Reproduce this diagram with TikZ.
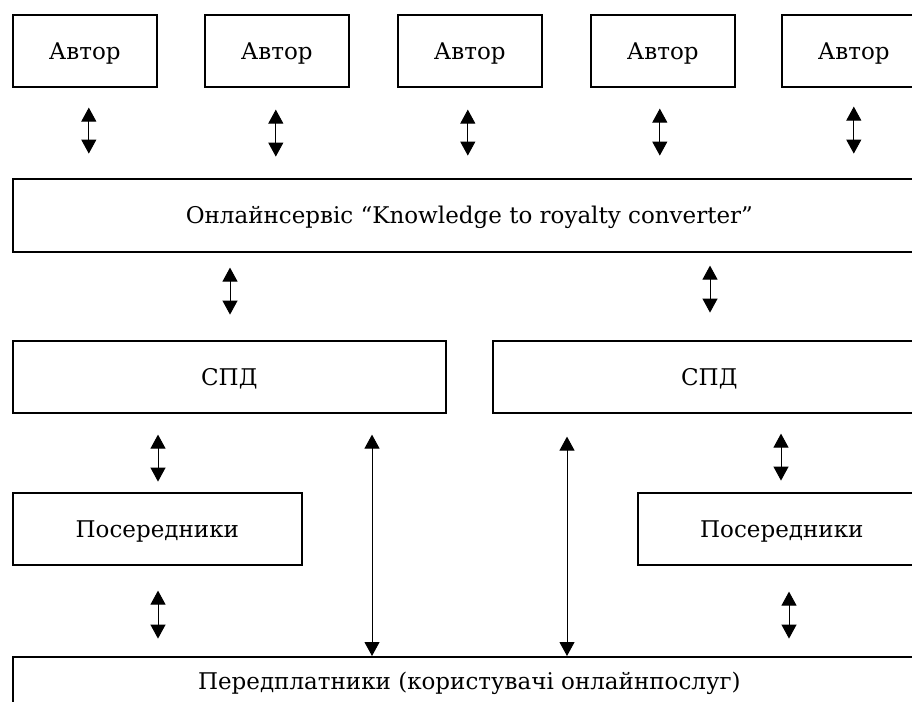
\documentclass[tikz,border=0pt]{standalone}
\usepackage{fontspec}
\setmainfont{DejaVu Serif}
\usetikzlibrary{arrows.meta}
\begin{document}
\begin{tikzpicture}[x=1pt,y=-1pt,
  box/.style={draw=black,line width=1.6pt,rectangle,anchor=north west,inner sep=0pt,
    minimum height=72pt,text height=17pt,text depth=0pt,font=\fontsize{23}{27}\selectfont},
  arr/.style={line width=1pt,{Triangle[width=15pt,length=14pt]}-{Triangle[width=15pt,length=14pt]}}]
\useasboundingbox (0,0) rectangle (912,701);
\clip (0,0) rectangle (912,701);
\node[box,minimum width=144pt] (a1) at (12,14) {Автор};
\node[box,minimum width=144pt] (a2) at (204,14) {Автор};
\node[box,minimum width=144pt] (a3) at (397,14) {Автор};
\node[box,minimum width=144pt] (a4) at (590,14) {Автор};
\node[box,minimum width=144pt] (a5) at (781,14) {Автор};
\node[box,minimum width=913pt,minimum height=73pt] (svc) at (12,178) {Онлайнсервіс “Knowledge to royalty converter”};
\node[box,minimum width=433pt] (spdL) at (12,340) {СПД};
\node[box,minimum width=433pt] (spdR) at (492,340) {СПД};
\node[box,minimum width=289pt] (posL) at (12,492) {Посередники};
\node[box,minimum width=288pt] (posR) at (637,492) {Посередники};
\node[box,minimum width=913pt,minimum height=48pt] (bot) at (12,656) {Передплатники (користувачі онлайнпослуг)};
% author arrows
\draw[arr] ([shift={(4,20)}]a1.south) -- ([shift={(4,66)}]a1.south);
\draw[arr] ([shift={(-1,22)}]a2.south) -- ([shift={(-1,69)}]a2.south);
\draw[arr] ([shift={(-2,22)}]a3.south) -- ([shift={(-2,68)}]a3.south);
\draw[arr] ([shift={(-3,21)}]a4.south) -- ([shift={(-3,68)}]a4.south);
\draw[arr] ([shift={(0,19)}]a5.south) -- ([shift={(0,66)}]a5.south);
% service to SPD
\draw[arr] ([shift={(218,15)}]svc.south west) -- ([shift={(218,62)}]svc.south west);
\draw[arr] ([shift={(698,13)}]svc.south west) -- ([shift={(698,60)}]svc.south west);
% left column
\draw[arr] ([shift={(146,21)}]spdL.south west) -- ([shift={(146,68)}]spdL.south west);
\draw[arr] ([shift={(146,25)}]posL.south west) -- ([shift={(146,73)}]posL.south west);
\draw[arr] ([shift={(360,21)}]spdL.south west) -- ([shift={(360,0)}]bot.north west);
% right column
\draw[arr] ([shift={(75,23)}]spdR.south west) -- ([shift={(555,0)}]bot.north west);
\draw[arr] ([shift={(289,20)}]spdR.south west) -- ([shift={(289,67)}]spdR.south west);
\draw[arr] ([shift={(152,26)}]posR.south west) -- ([shift={(152,73)}]posR.south west);
\end{tikzpicture}
\end{document}
